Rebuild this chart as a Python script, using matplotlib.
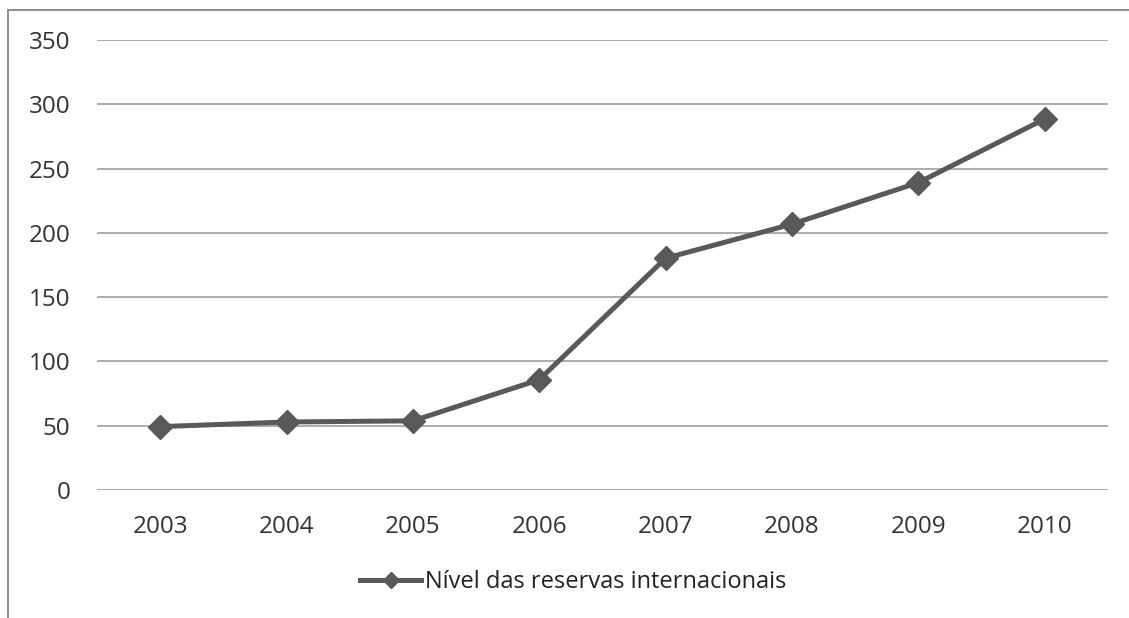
import numpy as np
import matplotlib.pyplot as plt
from matplotlib.lines import Line2D

# Reservas internacionais (US$ bilhões)
anos = ['2003', '2004', '2005', '2006', '2007', '2008', '2009', '2010']
reservas = [49.3, 52.9, 53.8, 85.8, 180.3, 206.8, 239.1, 288.6]
yticks = [0, 50, 100, 150, 200, 250, 300, 350]

plt.rcParams['font.family'] = ['Open Sans', 'DejaVu Sans']

fig = plt.figure(figsize=(11.29, 6.18), dpi=100)
ax = fig.add_axes([0.0859, 0.2071, 0.8955, 0.7282])

x = np.arange(len(anos))
ax.plot(x, reservas, color='#595959', lw=3.6, marker='D', ms=12,
        label='Nível das reservas internacionais', zorder=3)

ax.set_xlim(-0.5, len(anos) - 0.5)
ax.set_ylim(0, 350)
ax.set_yticks(yticks)
ax.set_xticks(x)
ax.set_xticklabels(anos)
ax.grid(axis='y', color='#a6a6a6', lw=1.3)
ax.set_axisbelow(True)
for s in ax.spines.values():
    s.set_visible(False)
ax.tick_params(length=0, labelsize=17.5, labelcolor='#333333')
ax.tick_params(axis='y', pad=19)
ax.tick_params(axis='x', pad=18)

fig.legend(loc='center', bbox_to_anchor=(573 / 1129, 1 - 582 / 618),
           frameon=False, fontsize=17, handlelength=2.6, handletextpad=0.15,
           markerscale=0.65, labelcolor='#222222')

# moldura do gráfico
fig.add_artist(Line2D([8 / 1129, 8 / 1129], [0, 1 - 10 / 618],
                      transform=fig.transFigure, color='#8c8c8c', lw=1.4))
fig.add_artist(Line2D([8 / 1129, 1], [1 - 10 / 618, 1 - 10 / 618],
                      transform=fig.transFigure, color='#8c8c8c', lw=1.4))

plt.savefig('out.png', dpi=100)
